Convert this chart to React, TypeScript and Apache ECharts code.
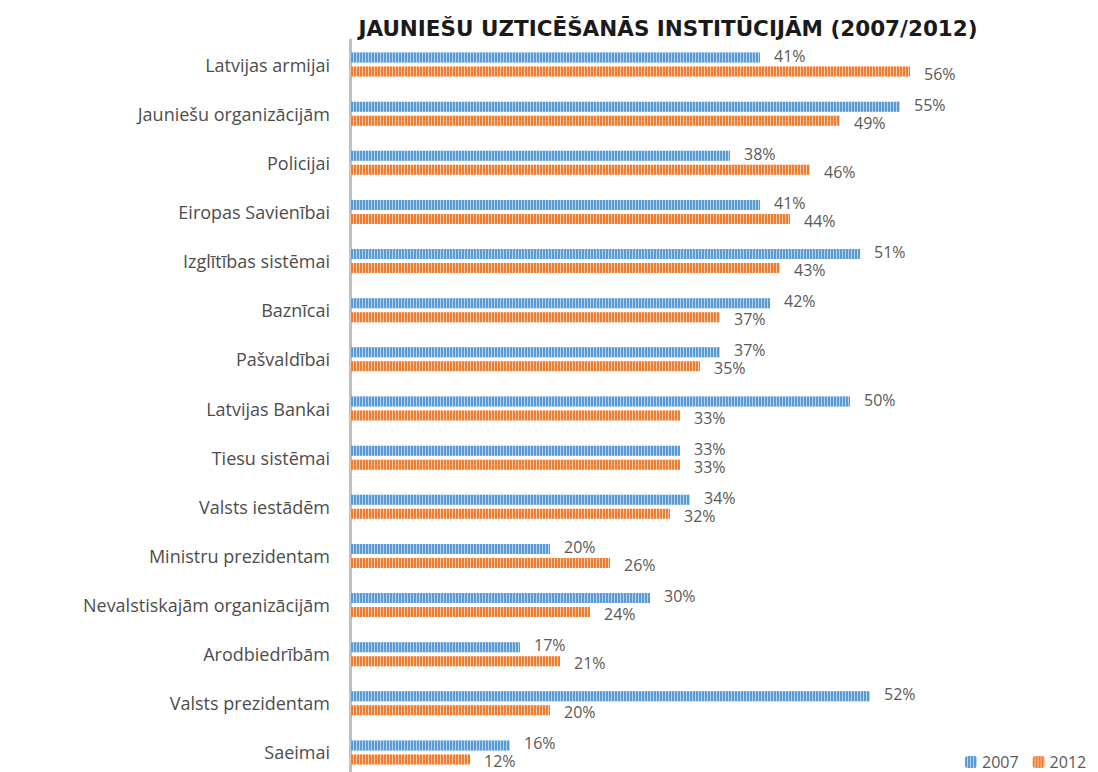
import React, { useEffect, useRef } from "react";
import * as echarts from "echarts";

const titleText = "JAUNIEŠU UZTICĒŠANĀS INSTITŪCIJĀM (2007/2012)";
const categories = [
  "Latvijas armijai",
  "Jauniešu organizācijām",
  "Policijai",
  "Eiropas Savienībai",
  "Izglītības sistēmai",
  "Baznīcai",
  "Pašvaldībai",
  "Latvijas Bankai",
  "Tiesu sistēmai",
  "Valsts iestādēm",
  "Ministru prezidentam",
  "Nevalstiskajām organizācijām",
  "Arodbiedrībām",
  "Valsts prezidentam",
  "Saeimai",
];
const values2007 = [41, 55, 38, 41, 51, 42, 37, 50, 33, 34, 20, 30, 17, 52, 16];
const values2012 = [56, 49, 46, 44, 43, 37, 35, 33, 33, 32, 26, 24, 21, 20, 12];
const seriesNames = ["2007", "2012"];

const FONT = "'Open Sans', 'DejaVu Sans', sans-serif";

export default function App() {
  const ref = useRef<HTMLDivElement>(null);
  useEffect(() => {
    if (!ref.current) return;
    const chart = echarts.init(ref.current, undefined, { renderer: "svg" });
    const mkDecal = (c: string) => ({
      symbol: "rect",
      symbolSize: 1,
      dashArrayX: [2, 1],
      dashArrayY: [10, 0],
      rotation: 0,
      color: c,
    });
    const mkLabel = (dy: number) => ({
      show: true,
      position: "right" as const,
      distance: 14,
      offset: [0, dy],
      formatter: "{c}%",
      color: "#595959",
      fontSize: 16,
      fontFamily: FONT,
    });
    chart.setOption({
      animation: false,
      aria: { enabled: true, decal: { show: true } },
      title: {
        text: titleText,
        left: 663,
        textAlign: "center",
        top: 12,
        textStyle: {
          fontSize: 21.5,
          fontWeight: "bold",
          color: "#1a1a1a",
          fontFamily: "'DejaVu Sans', sans-serif",
        },
      },
      legend: {
        left: 960,
        top: 749,
        itemWidth: 12,
        itemHeight: 12,
        itemGap: 14,
        textStyle: { color: "#595959", fontSize: 16, fontFamily: FONT },
        data: seriesNames,
      },
      grid: { left: 350, right: 148, top: 40, bottom: 3 },
      xAxis: {
        type: "value",
        min: 0,
        max: 60,
        show: false,
      },
      yAxis: {
        type: "category",
        data: categories,
        inverse: true,
        axisLine: { show: true, lineStyle: { color: "#bfbfbf", width: 3 } },
        axisTick: { show: false },
        axisLabel: {
          color: "#4d4d4d",
          fontSize: 18,
          fontFamily: FONT,
          margin: 20,
        },
      },
      series: [
        {
          name: seriesNames[0],
          type: "bar",
          data: values2007,
          barWidth: 10,
          barGap: "40%",
          itemStyle: { color: "#b4d1f0", decal: mkDecal("#5b9bd5") },
          label: mkLabel(-2),
        },
        {
          name: seriesNames[1],
          type: "bar",
          data: values2012,
          barWidth: 10,
          barGap: "40%",
          itemStyle: { color: "#f8c9a8", decal: mkDecal("#ed7d31") },
          label: mkLabel(2),
        },
      ],
    });
    return () => chart.dispose();
  }, []);
  return (
    <div
      ref={ref}
      style={{ position: "fixed", left: 0, top: 0, width: 1098, height: 780, background: "#fff" }}
    />
  );
}
